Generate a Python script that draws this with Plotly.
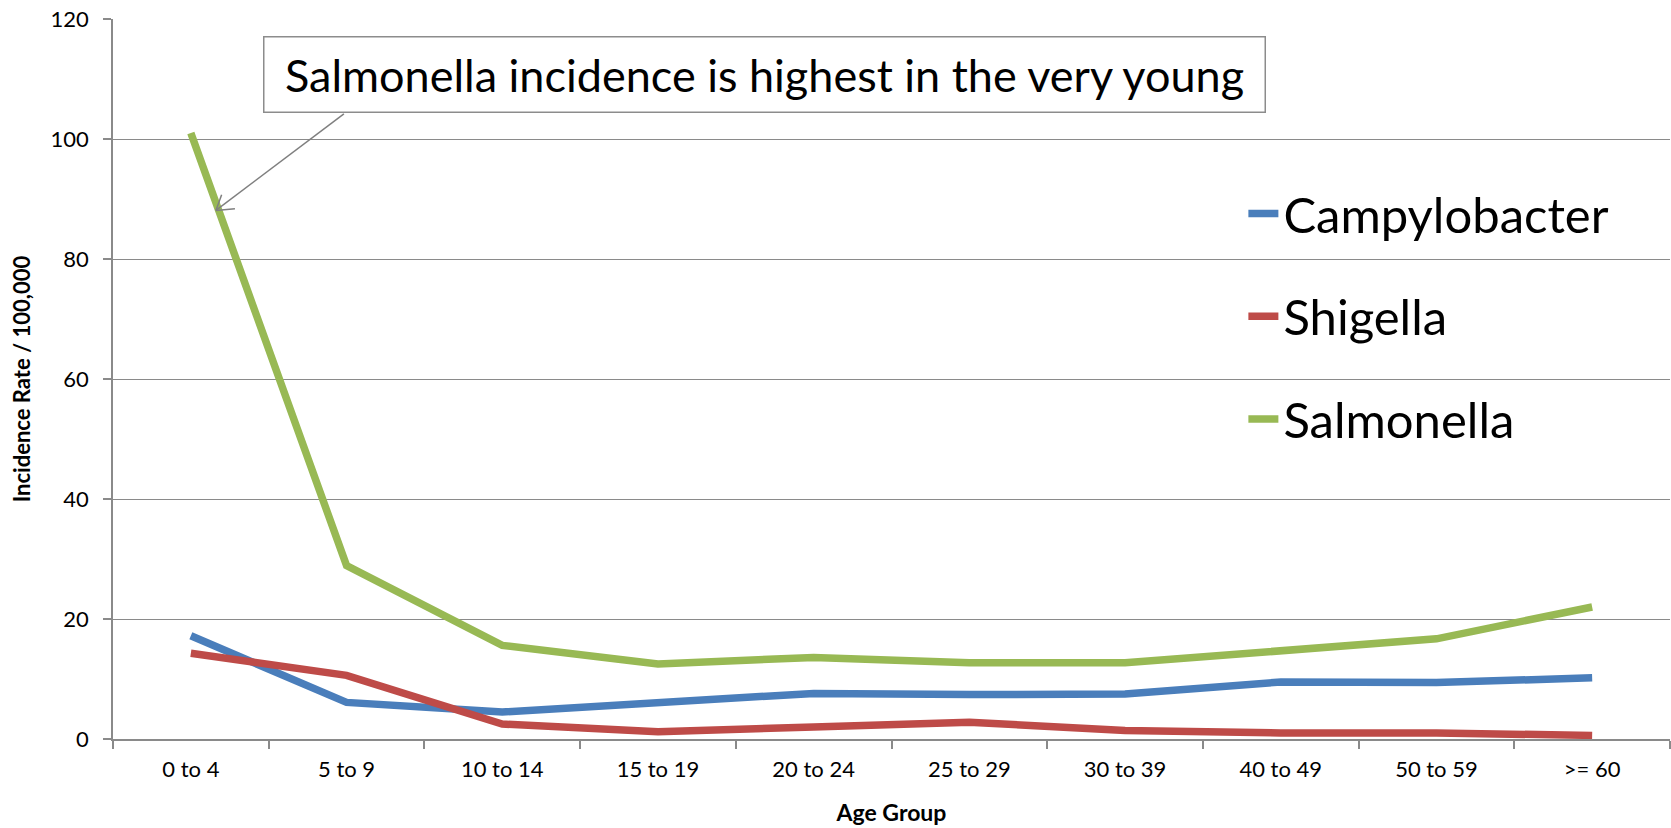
import plotly.graph_objects as go

# Age groups and incidence rates per 100,000
age_groups = ["0 to 4", "5 to 9", "10 to 14", "15 to 19", "20 to 24",
              "25 to 29", "30 to 39", "40 to 49", "50 to 59", ">= 60"]
campylobacter = [17.2, 6.1, 4.5, 6.0, 7.6, 7.4, 7.5, 9.5, 9.4, 10.2]
shigella = [14.3, 10.6, 2.5, 1.2, 2.0, 2.8, 1.4, 1.0, 1.0, 0.6]
salmonella = [101.0, 28.9, 15.6, 12.5, 13.6, 12.7, 12.7, 14.7, 16.7, 22.0]

series = [
    ("Campylobacter", campylobacter, "#4A7EBB"),
    ("Shigella", shigella, "#BE4B48"),
    ("Salmonella", salmonella, "#98B954"),
]

FONT = "Lato, Carlito, Calibri, sans-serif"
GRID = "#8A8A8A"

fig = go.Figure()
for i, (name, vals, color) in enumerate(series):
    fig.add_trace(go.Scatter(
        x=age_groups, y=vals, name=name, mode="lines",
        line=dict(color=color, width=7.5),
        legendgroup=f"g{i}",
    ))

# Callout box pointing at the 0-4 Salmonella rate
fig.add_annotation(
    xref="paper", yref="paper", x=0.4185, y=0.9236,
    xanchor="center", yanchor="middle",
    text="Salmonella incidence is highest in the very young",
    showarrow=False, font=dict(family=FONT, size=45, color="black"),
    bgcolor="white", bordercolor="#8C8C8C", borderwidth=1.5,
    borderpad=0, width=1000, height=74,
)

# Arrow from the callout to the line
tail = (0.983, 104.2)
tip = (0.161, 88.1)
arrow_style = dict(color="#7F7F7F", width=1.5)
fig.add_shape(type="line", xref="x", yref="y",
              x0=tail[0], y0=tail[1], x1=tip[0], y1=tip[1], line=arrow_style)
for dx, dy in [(19, 1.7), (5.7, 15.7)]:
    fig.add_shape(type="line", xref="x", yref="y",
                  xsizemode="pixel", ysizemode="pixel",
                  xanchor=tip[0], yanchor=tip[1],
                  x0=0, y0=0, x1=dx, y1=dy, line=arrow_style)

fig.update_layout(
    width=1671, height=828,
    margin=dict(l=113, r=1, t=19, b=89),
    paper_bgcolor="white", plot_bgcolor="white",
    font=dict(family=FONT, color="black"),
    showlegend=True,
    legend=dict(
        x=0.726, y=0.783, xanchor="left", yanchor="top",
        font=dict(family=FONT, size=49, color="black"),
        traceorder="grouped", tracegroupgap=36,
        bgcolor="rgba(0,0,0,0)", itemwidth=30,
    ),
    xaxis=dict(
        type="category", tickson="boundaries",
        ticks="outside", ticklen=8, tickcolor=GRID, tickwidth=1.5,
        showline=True, linecolor=GRID, linewidth=1.5,
        showgrid=False, range=[-0.5, 9.5],
        tickfont=dict(family=FONT, size=22, color="black"),
        ticklabelstandoff=10,
        title=dict(text="<b>Age Group</b>", font=dict(family=FONT, size=23, color="black"),
                   standoff=24),
    ),
    yaxis=dict(
        range=[0, 120], dtick=20,
        ticks="outside", ticklen=8, tickcolor=GRID, tickwidth=1.5,
        showline=True, linecolor=GRID, linewidth=1.5,
        showgrid=True, gridcolor=GRID, gridwidth=1.3,
        zeroline=False,
        tickfont=dict(family=FONT, size=22, color="black"),
        ticklabelstandoff=10,
        title=dict(text="<b>Incidence Rate / 100,000</b>",
                   font=dict(family=FONT, size=22, color="black"), standoff=14),
    ),
)

fig.write_html("out.html")
